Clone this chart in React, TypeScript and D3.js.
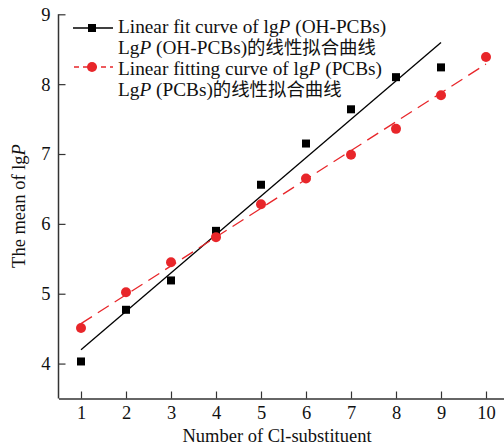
import React, { useRef, useEffect } from "react";
import * as d3 from "d3";

// number of Cl substituents and mean lgP values
const ohX = [1, 2, 3, 4, 5, 6, 7, 8, 9];
const ohY = [4.03, 4.77, 5.19, 5.9, 6.56, 7.15, 7.64, 8.1, 8.24];
const pcbX = [1, 2, 3, 4, 5, 6, 7, 8, 9, 10];
const pcbY = [4.51, 5.02, 5.45, 5.81, 6.28, 6.65, 6.99, 7.36, 7.84, 8.39];
const xTicks = [1, 2, 3, 4, 5, 6, 7, 8, 9, 10];
const yTicks = [4, 5, 6, 7, 8, 9];

const RED = "#e8262a";
const SERIF = "'Liberation Serif', 'Times New Roman', serif";
const CJK = "'Noto Sans CJK SC', sans-serif";
const FS = 18.5;
const LEG_FS = 19.3;

// least squares fit, drawn between the first and last x
function fit(xs: number[], ys: number[]) {
  const mx = d3.mean(xs)!;
  const my = d3.mean(ys)!;
  const sxy = d3.sum(xs, (x, i) => (x - mx) * (ys[i] - my));
  const sxx = d3.sum(xs, (x) => (x - mx) ** 2);
  const b = sxy / sxx;
  const a = my - b * mx;
  const x0 = xs[0];
  const x1 = xs[xs.length - 1];
  return [
    [x0, a + b * x0],
    [x1, a + b * x1],
  ];
}

function Chart({ width = 504, height = 446 }) {
  const svgRef = useRef<SVGSVGElement>(null);

  useEffect(() => {
    const svg = d3.select(svgRef.current);
    svg.selectAll("*").remove();

    const left = 58.5;
    const bottom = 398.5;

    const x = d3.scaleLinear().domain([0.5, 10.4]).range([left, left + 9.9 * 45]);
    const y = d3.scaleLinear().domain([3.5, 9]).range([bottom, 14.3]);

    // axes, ticks point inward
    const xAxis = svg
      .append("g")
      .attr("transform", `translate(0,${bottom})`)
      .call(d3.axisBottom(x).tickValues(xTicks).tickFormat(d3.format("d")).tickSize(-7).tickSizeOuter(0).tickPadding(7));
    const yAxis = svg
      .append("g")
      .attr("transform", `translate(${left},0)`)
      .call(d3.axisLeft(y).tickValues(yTicks).tickFormat(d3.format("d")).tickSize(-7).tickSizeOuter(0).tickPadding(8));

    [xAxis, yAxis].forEach((g) => {
      g.select(".domain").attr("stroke", "#333").attr("stroke-width", 1.5);
      g.selectAll(".tick line").attr("stroke", "#333").attr("stroke-width", 1.2);
      g.selectAll(".tick text")
        .attr("font-family", SERIF)
        .attr("font-size", FS)
        .attr("fill", "#111");
    });
    // y-axis line stops at the top tick
    yAxis.select(".domain").attr("d", `M0,${bottom}V${y(9)}`);

    // axis titles
    svg
      .append("text")
      .attr("x", 277)
      .attr("y", 442)
      .attr("text-anchor", "middle")
      .attr("font-family", SERIF)
      .attr("font-size", FS)
      .attr("fill", "#111")
      .text("Number of Cl-substituent");

    const yl = svg
      .append("text")
      .attr("transform", `translate(25,206) rotate(-90)`)
      .attr("text-anchor", "middle")
      .attr("font-family", SERIF)
      .attr("font-size", FS)
      .attr("fill", "#111");
    yl.append("tspan").text("The mean of lg");
    yl.append("tspan").attr("font-style", "italic").text("P");

    const line = d3
      .line<number[]>()
      .x((d) => x(d[0]))
      .y((d) => y(d[1]));

    // fit lines
    svg
      .append("path")
      .attr("d", line(fit(ohX, ohY)))
      .attr("fill", "none")
      .attr("stroke", "#000")
      .attr("stroke-width", 1.3);
    svg
      .append("path")
      .attr("d", line(fit(pcbX, pcbY)))
      .attr("fill", "none")
      .attr("stroke", RED)
      .attr("stroke-width", 1.3)
      .attr("stroke-dasharray", "13,7");

    // points
    svg
      .append("g")
      .selectAll("rect")
      .data(ohX)
      .join("rect")
      .attr("x", (d) => x(d) - 4)
      .attr("y", (d, i) => y(ohY[i]) - 4)
      .attr("width", 8)
      .attr("height", 8)
      .attr("fill", "#000");
    svg
      .append("g")
      .selectAll("circle")
      .data(pcbX)
      .join("circle")
      .attr("cx", (d) => x(d))
      .attr("cy", (d, i) => y(pcbY[i]))
      .attr("r", 5)
      .attr("fill", RED);

    // legend
    const lg = svg.append("g");
    const addLabel = (yy: number, parts: [string, boolean][], cjk?: string) => {
      const t = lg
        .append("text")
        .attr("x", 118)
        .attr("y", yy)
        .attr("font-family", SERIF)
        .attr("font-size", LEG_FS)
        .attr("fill", "#111");
      parts.forEach(([s, it]) => {
        const sp = t.append("tspan").text(s);
        if (it) sp.attr("font-style", "italic");
      });
      if (cjk) t.append("tspan").attr("font-family", CJK).attr("font-size", 18.4).text(cjk);
    };

    lg.append("line").attr("x1", 73).attr("x2", 113).attr("y1", 28).attr("y2", 28)
      .attr("stroke", "#000").attr("stroke-width", 1.3);
    lg.append("rect").attr("x", 88).attr("y", 24).attr("width", 8).attr("height", 8).attr("fill", "#000");
    addLabel(32.5, [["Linear fit curve of lg", false], ["P", true], [" (OH-PCBs)", false]]);
    addLabel(54, [["Lg", false], ["P", true], [" (OH-PCBs)", false]], "的线性拟合曲线");

    lg.append("line").attr("x1", 74).attr("x2", 113).attr("y1", 67).attr("y2", 67)
      .attr("stroke", RED).attr("stroke-width", 1.3).attr("stroke-dasharray", "5,4");
    lg.append("circle").attr("cx", 92).attr("cy", 67).attr("r", 5).attr("fill", RED);
    addLabel(75, [["Linear fitting curve of lg", false], ["P", true], [" (PCBs)", false]]);
    addLabel(96, [["Lg", false], ["P", true], [" (PCBs)", false]], "的线性拟合曲线");
  }, [width, height]);

  return (
    <svg
      ref={svgRef}
      width={width}
      height={height}
      style={{ position: "absolute", left: 0, top: 0, display: "block" }}
    ></svg>
  );
}

export default function App() {
  return <Chart />;
}
